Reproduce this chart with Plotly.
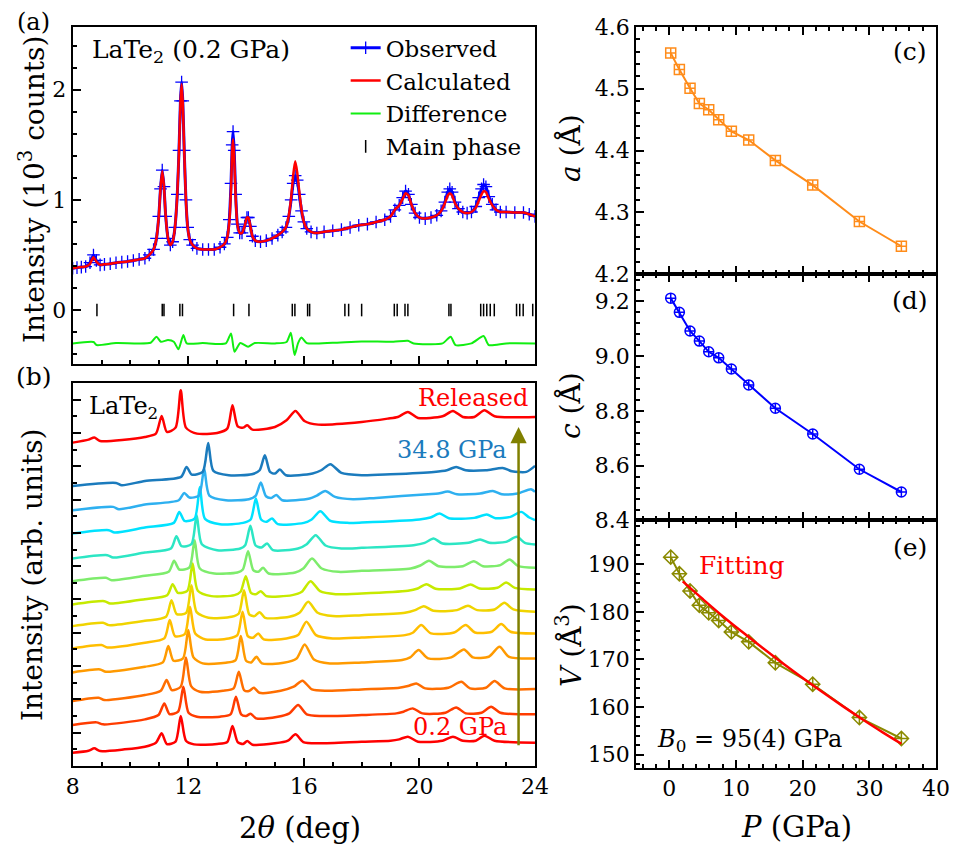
import plotly.graph_objects as go

FONT = "DejaVu Serif"

# ---------------- Panel (a): Rietveld refinement, LaTe2 at 0.2 GPa ----------------
obs_2theta = [8.00, 8.15, 8.30, 8.45, 8.60, 8.72, 8.82, 8.95, 9.10, 9.30, 9.50, 9.70, 9.90, 10.10,
              10.30, 10.50, 10.65, 10.80, 10.90, 10.98, 11.04, 11.10, 11.16, 11.22, 11.30, 11.38,
              11.46, 11.54, 11.62, 11.68, 11.73, 11.77, 11.81, 11.86, 11.92, 11.98, 12.05, 12.15,
              12.30, 12.50, 12.70, 12.90, 13.10, 13.25, 13.35, 13.42, 13.48, 13.52, 13.55, 13.59,
              13.64, 13.70, 13.78, 13.86, 13.95, 14.03, 14.08, 14.15, 14.22, 14.32, 14.50, 14.70,
              14.90, 15.10, 15.25, 15.38, 15.48, 15.56, 15.63, 15.70, 15.77, 15.84, 15.92, 16.00,
              16.10, 16.25, 16.45, 16.70, 17.00, 17.30, 17.60, 17.90, 18.20, 18.50, 18.80, 19.00,
              19.15, 19.30, 19.42, 19.52, 19.62, 19.72, 19.85, 20.00, 20.20, 20.40, 20.60, 20.75,
              20.88, 20.98, 21.05, 21.13, 21.23, 21.35, 21.50, 21.65, 21.80, 21.95, 22.05, 22.15,
              22.22, 22.30, 22.40, 22.52, 22.65, 22.80, 23.00, 23.30, 23.60, 23.80, 24.00]
obs_int = [0.38, 0.385, 0.39, 0.395, 0.43, 0.50, 0.45, 0.41, 0.415, 0.42, 0.43, 0.435, 0.44, 0.45,
           0.46, 0.47, 0.50, 0.55, 0.65, 0.85, 1.10, 1.27, 1.12, 0.85, 0.65, 0.59,
           0.62, 0.75, 1.05, 1.45, 1.90, 2.07, 1.90, 1.45, 1.00, 0.75, 0.64, 0.59,
           0.56, 0.55, 0.55, 0.55, 0.57, 0.60, 0.66, 0.82, 1.15, 1.50, 1.62, 1.45,
           1.05, 0.78, 0.70, 0.70, 0.76, 0.84, 0.84, 0.76, 0.67, 0.63, 0.62, 0.63,
           0.65, 0.68, 0.71, 0.75, 0.85, 1.00, 1.15, 1.22, 1.18, 1.05, 0.90, 0.80,
           0.74, 0.71, 0.70, 0.71, 0.72, 0.73, 0.75, 0.77, 0.78, 0.80, 0.82, 0.85,
           0.91, 0.95, 1.02, 1.08, 1.05, 0.96, 0.88, 0.84, 0.83, 0.84, 0.86, 0.90,
           0.98, 1.07, 1.10, 1.07, 0.98, 0.92, 0.89, 0.88, 0.89, 0.94, 1.02, 1.10,
           1.14, 1.12, 1.03, 0.96, 0.91, 0.89, 0.89, 0.885, 0.885, 0.87, 0.85]
calc_int = [0.38, 0.385, 0.39, 0.395, 0.42, 0.48, 0.44, 0.41, 0.415, 0.42, 0.43, 0.435, 0.44, 0.45,
            0.46, 0.47, 0.50, 0.55, 0.65, 0.85, 1.10, 1.26, 1.12, 0.85, 0.65, 0.59,
            0.62, 0.75, 1.05, 1.45, 1.88, 2.05, 1.88, 1.45, 1.00, 0.75, 0.64, 0.59,
            0.56, 0.55, 0.55, 0.55, 0.57, 0.60, 0.66, 0.80, 1.10, 1.45, 1.55, 1.38,
            1.02, 0.78, 0.70, 0.70, 0.76, 0.84, 0.84, 0.76, 0.67, 0.63, 0.62, 0.63,
            0.65, 0.68, 0.71, 0.75, 0.86, 1.02, 1.22, 1.35, 1.25, 1.08, 0.91, 0.80,
            0.74, 0.71, 0.70, 0.71, 0.72, 0.73, 0.75, 0.77, 0.78, 0.80, 0.82, 0.85,
            0.91, 0.95, 1.01, 1.06, 1.04, 0.96, 0.88, 0.84, 0.83, 0.84, 0.86, 0.90,
            0.97, 1.04, 1.06, 1.04, 0.97, 0.92, 0.89, 0.88, 0.89, 0.93, 0.99, 1.05,
            1.08, 1.07, 1.01, 0.95, 0.91, 0.89, 0.89, 0.885, 0.885, 0.87, 0.85]
diff_2theta = [8.00, 8.72, 8.83, 9.50, 10.70, 10.90, 11.05, 11.30, 11.50, 11.66, 11.83, 11.95,
               12.50, 13.30, 13.48, 13.60, 13.80, 14.07, 14.30, 15.00, 15.40, 15.55, 15.68,
               15.80, 15.92, 16.10, 17.00, 18.00, 19.10, 19.60, 19.80, 20.80, 21.08, 21.25,
               21.80, 22.22, 22.40, 23.00, 24.00]
diff_int = [-0.303, -0.290, -0.318, -0.300, -0.297, -0.242, -0.288, -0.273, -0.288, -0.357,
            -0.227, -0.303, -0.300, -0.303, -0.212, -0.379, -0.300, -0.333, -0.300, -0.303,
            -0.290, -0.206, -0.409, -0.300, -0.250, -0.300, -0.297, -0.285, -0.288, -0.279,
            -0.303, -0.303, -0.242, -0.318, -0.303, -0.236, -0.318, -0.303, -0.303]
main_phase_2theta = [8.84, 11.10, 11.16, 11.71, 11.80, 13.57, 14.10, 15.60, 15.69, 16.13, 16.20,
                     17.42, 17.55, 18.00, 19.13, 19.23, 19.50, 19.60, 21.02, 21.09, 22.12, 22.22,
                     22.33, 22.45, 22.59, 23.36, 23.47, 23.59, 23.92]

# ---------------- Panel (b): pressure-dependent XRD patterns (arb. units, stacked) ----------------
tt_p0p2 = [8.0, 8.55, 8.75, 8.95, 9.8, 10.5, 10.88, 11.08, 11.26, 11.56, 11.74, 11.92, 12.2, 13.0, 13.35,
           13.53, 13.71, 13.9, 14.04, 14.22, 15.0, 15.45, 15.71, 15.98, 16.5, 18.0, 19.0, 19.3, 19.6,
           19.95, 20.8, 21.16, 21.5, 21.95, 22.25, 22.6, 24.0]
int_p0p2 = [40, 46, 53, 45, 50, 58, 70, 98, 66, 73, 150, 76, 65, 66, 72, 120, 72, 66, 75, 64, 68, 76, 95,
            72, 68, 73, 76, 80, 88, 73, 76, 88, 76, 76, 91, 76, 70]

tt_p1p5 = [8.0, 8.83, 9.05, 10.5, 10.97, 11.17, 11.35, 11.65, 11.83, 12.01, 12.3, 13.1, 13.47, 13.65, 13.83,
           14.0, 14.16, 14.35, 15.1, 15.5, 15.80, 16.1, 16.6, 18.0, 19.2, 19.45, 19.77, 20.1, 20.9, 21.27,
           21.6, 22.15, 22.48, 22.8, 24.0]
int_p1p5 = [123, 131, 125, 140, 153, 188, 156, 163, 238, 160, 148, 148, 156, 208, 155, 150, 157, 143, 148,
            158, 183, 155, 150, 153, 158, 163, 173, 158, 160, 176, 158, 160, 178, 160, 155]

tt_p3p1 = [8.0, 8.9, 9.1, 10.5, 11.05, 11.25, 11.43, 11.74, 11.92, 12.1, 12.4, 13.2, 13.57, 13.75, 13.93,
           14.1, 14.27, 14.46, 15.2, 15.65, 15.95, 16.28, 16.8, 18.0, 19.3, 19.6, 19.89, 20.2, 21.0, 21.45,
           21.75, 22.3, 22.6, 22.95, 24.0]
int_p3p1 = [195, 205, 198, 213, 226, 258, 228, 238, 326, 240, 223, 226, 233, 283, 228, 225, 235, 220, 226,
            238, 256, 230, 226, 230, 235, 240, 248, 233, 235, 253, 233, 235, 255, 233, 231]

tt_p4p5 = [8.0, 8.95, 9.15, 10.5, 11.12, 11.31, 11.49, 11.82, 12.0, 12.18, 12.5, 13.3, 13.64, 13.82, 14.0,
           14.18, 14.36, 14.55, 15.3, 15.75, 16.03, 16.35, 16.9, 18.0, 19.4, 19.68, 19.97, 20.3, 21.1, 21.54,
           21.85, 22.4, 22.77, 23.1, 24.0]
int_p4p5 = [281, 290, 283, 298, 311, 360, 316, 323, 408, 326, 308, 310, 318, 390, 316, 311, 328, 308, 310,
            323, 365, 320, 308, 311, 318, 326, 348, 323, 326, 350, 326, 328, 358, 328, 323]

tt_p5p9 = [8.0, 9.0, 9.2, 10.5, 11.17, 11.36, 11.54, 11.88, 12.06, 12.24, 12.6, 13.4, 13.7, 13.88, 14.06,
           14.24, 14.42, 14.61, 15.4, 15.8, 16.09, 16.42, 17.0, 18.0, 19.5, 19.77, 20.06, 20.4, 21.2, 21.6,
           21.92, 22.5, 22.83, 23.15, 24.0]
int_p5p9 = [353, 363, 356, 370, 383, 438, 390, 396, 478, 398, 380, 383, 393, 463, 390, 385, 398, 380, 383,
            393, 433, 393, 383, 386, 393, 400, 423, 398, 401, 423, 401, 403, 426, 403, 398]

tt_p7p4 = [8.0, 9.05, 9.25, 10.5, 11.23, 11.42, 11.6, 11.93, 12.11, 12.29, 12.7, 13.5, 13.75, 13.93, 14.11,
           14.29, 14.47, 14.66, 15.5, 15.85, 16.15, 16.48, 17.0, 18.0, 19.5, 19.85, 20.15, 20.48, 21.3, 21.68,
           22.0, 22.6, 22.94, 23.25, 24.0]
int_p7p4 = [420, 430, 423, 436, 448, 498, 456, 460, 543, 462, 445, 448, 458, 528, 455, 450, 462, 445, 448,
            460, 493, 460, 450, 453, 460, 468, 480, 466, 468, 481, 468, 470, 490, 470, 463]

tt_p9p3 = [8.0, 9.1, 9.3, 10.5, 11.27, 11.46, 11.64, 11.97, 12.15, 12.33, 12.8, 13.6, 13.81, 13.99, 14.17,
           14.34, 14.51, 14.7, 15.6, 15.93, 16.23, 16.56, 17.1, 18.0, 19.6, 19.94, 20.24, 20.56, 21.4, 21.77,
           22.08, 22.7, 23.0, 23.3, 24.0]
int_p9p3 = [485, 495, 488, 501, 513, 546, 520, 526, 608, 526, 510, 513, 523, 570, 520, 516, 525, 510, 513,
            523, 555, 525, 516, 518, 526, 533, 546, 532, 533, 545, 533, 535, 551, 535, 530]

tt_p11p9 = [8.0, 9.15, 9.35, 10.5, 11.32, 11.51, 11.69, 12.04, 12.22, 12.4, 12.9, 13.7, 13.89, 14.07, 14.25,
            14.42, 14.59, 14.78, 15.7, 15.98, 16.28, 16.62, 17.2, 18.0, 19.7, 20.03, 20.33, 20.66, 21.5,
            21.88, 22.2, 22.8, 23.12, 23.42, 24.0]
int_p11p9 = [555, 565, 558, 571, 583, 616, 590, 596, 678, 593, 578, 581, 590, 645, 588, 583, 595, 578, 581,
             593, 623, 593, 583, 586, 593, 602, 616, 600, 600, 615, 600, 603, 620, 600, 595]

tt_p15p9 = [8.0, 9.2, 9.4, 10.5, 11.4, 11.59, 11.77, 12.11, 12.29, 12.47, 13.0, 13.8, 13.97, 14.15, 14.33,
            14.53, 14.73, 14.93, 15.8, 16.1, 16.41, 16.75, 17.3, 18.0, 19.8, 20.18, 20.49, 20.8, 21.7, 22.1,
            22.42, 23.0, 23.37, 23.65, 24.0]
int_p15p9 = [623, 633, 626, 641, 653, 690, 660, 666, 753, 666, 648, 653, 663, 721, 662, 656, 668, 648, 653,
             666, 693, 662, 653, 655, 663, 670, 683, 668, 670, 680, 670, 673, 688, 670, 665]

tt_p21p5 = [8.0, 9.25, 9.45, 10.5, 11.5, 11.69, 11.87, 12.22, 12.40, 12.58, 13.1, 13.9, 14.16, 14.34, 14.52,
            14.7, 14.90, 15.1, 16.0, 16.27, 16.57, 16.92, 17.5, 18.0, 20.0, 20.38, 20.70, 21.02, 21.9, 22.33,
            22.63, 23.15, 23.52, 23.8, 24.0]
int_p21p5 = [698, 708, 701, 716, 730, 763, 736, 743, 838, 742, 726, 730, 740, 803, 740, 733, 743, 726, 730,
             740, 765, 736, 730, 731, 740, 746, 758, 744, 745, 755, 744, 748, 763, 746, 738]

tt_p28p5 = [8.0, 9.4, 9.6, 10.5, 11.67, 11.86, 12.04, 12.37, 12.55, 12.73, 13.3, 14.1, 14.33, 14.51, 14.69,
            14.87, 15.05, 15.25, 16.2, 16.45, 16.74, 17.08, 17.7, 18.5, 20.3, 20.65, 20.98, 21.3, 22.1, 22.54,
            22.85, 23.4, 23.86, 24.0]
int_p28p5 = [768, 778, 771, 785, 798, 820, 806, 812, 893, 812, 798, 801, 811, 851, 810, 805, 814, 798, 803,
             812, 826, 808, 801, 805, 816, 818, 824, 816, 818, 826, 816, 818, 831, 823]

tt_p34p8 = [8.0, 9.5, 9.7, 10.5, 11.75, 11.94, 12.12, 12.5, 12.69, 12.87, 13.4, 14.2, 14.47, 14.65, 14.83,
            15.0, 15.17, 15.38, 16.3, 16.6, 16.92, 17.3, 18.0, 19.0, 20.5, 20.95, 21.27, 21.6, 22.3, 22.88,
            23.2, 23.7, 24.0]
int_p34p8 = [841, 850, 843, 856, 868, 898, 875, 883, 970, 886, 873, 876, 888, 933, 883, 878, 890, 873, 878,
             888, 906, 880, 873, 876, 883, 888, 898, 888, 888, 895, 885, 883, 901]

tt_released = [8.0, 8.55, 8.75, 8.95, 10.5, 10.88, 11.08, 11.26, 11.56, 11.74, 11.92, 12.3, 13.0, 13.35,
               13.53, 13.71, 13.9, 14.04, 14.22, 15.0, 15.4, 15.71, 16.02, 16.5, 18.0, 18.9, 19.25, 19.6,
               19.95, 20.8, 21.16, 21.5, 21.9, 22.25, 22.6, 24.0]
int_released = [971, 980, 986, 976, 988, 998, 1051, 1003, 1016, 1128, 1016, 998, 1000, 1013, 1083, 1020,
                1016, 1023, 1010, 1018, 1038, 1066, 1036, 1025, 1033, 1043, 1048, 1063, 1045, 1050, 1066,
                1048, 1048, 1068, 1050, 1048]

pattern_labels = ["0.2 GPa", "1.5 GPa", "3.1 GPa", "4.5 GPa", "5.9 GPa", "7.4 GPa", "9.3 GPa",
                  "11.9 GPa", "15.9 GPa", "21.5 GPa", "28.5 GPa", "34.8 GPa"]
pattern_colors = ["#ff0000", "#ff3c00", "#ff6e00", "#ff9a00", "#ffbe00", "#f0d400", "#c6ea00",
                  "#7eec6c", "#2ce6c4", "#00e2ff", "#2eb0f0", "#1b7bbd"]

# ---------------- Panels (c)-(e): lattice parameters vs pressure ----------------
pressure = [0.2, 1.5, 3.1, 4.5, 5.9, 7.4, 9.3, 11.9, 15.9, 21.5, 28.5, 34.8]
a_param = [4.558, 4.531, 4.501, 4.476, 4.466, 4.450, 4.431, 4.417, 4.384, 4.344, 4.285, 4.245]
c_param = [9.212, 9.160, 9.092, 9.055, 9.016, 8.994, 8.953, 8.895, 8.810, 8.716, 8.587, 8.504]
volume = [191.5, 188.0, 184.4, 181.4, 179.8, 178.2, 175.8, 173.7, 169.3, 164.8, 157.8, 153.4]
fit_pressure = [2, 5, 8, 11, 14, 17, 20, 23, 26, 29, 32, 34.8]
fit_volume = [186.4, 182.7, 179.1, 175.7, 172.4, 169.2, 166.1, 163.1, 160.2, 157.4, 154.7, 152.3]

fig = go.Figure()

# (a)
fig.add_trace(go.Scatter(x=obs_2theta, y=obs_int, mode="lines+markers", name="Observed",
                         line=dict(color="#0000ff", width=3, shape="spline", smoothing=0.6),
                         marker=dict(symbol="cross-thin", size=9, line=dict(width=1.3, color="#0000ff")),
                         xaxis="x", yaxis="y"))
fig.add_trace(go.Scatter(x=obs_2theta, y=calc_int, mode="lines", name="Calculated",
                         line=dict(color="#ff0000", width=2.5, shape="spline", smoothing=0.6),
                         xaxis="x", yaxis="y"))
fig.add_trace(go.Scatter(x=diff_2theta, y=diff_int, mode="lines", name="Difference",
                         line=dict(color="#11ee11", width=2, shape="spline", smoothing=0.6),
                         xaxis="x", yaxis="y"))
fig.add_trace(go.Scatter(x=main_phase_2theta, y=[0] * len(main_phase_2theta), mode="markers",
                         name="Main phase",
                         marker=dict(symbol="line-ns", size=9, line=dict(width=1.5, color="black")),
                         xaxis="x", yaxis="y"))

# (b)
pattern_x = [tt_p0p2, tt_p1p5, tt_p3p1, tt_p4p5, tt_p5p9, tt_p7p4, tt_p9p3, tt_p11p9, tt_p15p9,
             tt_p21p5, tt_p28p5, tt_p34p8]
pattern_y = [int_p0p2, int_p1p5, int_p3p1, int_p4p5, int_p5p9, int_p7p4, int_p9p3, int_p11p9, int_p15p9,
             int_p21p5, int_p28p5, int_p34p8]
for px, py, lab, col in zip(pattern_x, pattern_y, pattern_labels, pattern_colors):
    fig.add_trace(go.Scatter(x=px, y=py, mode="lines", name=lab, showlegend=False,
                             line=dict(color=col, width=2.5, shape="spline", smoothing=0.7),
                             xaxis="x2", yaxis="y2"))
fig.add_trace(go.Scatter(x=tt_released, y=int_released, mode="lines", name="Released", showlegend=False,
                         line=dict(color="#ff0000", width=2.5, shape="spline", smoothing=0.7),
                         xaxis="x2", yaxis="y2"))

# (c)
fig.add_trace(go.Scatter(x=pressure, y=a_param, mode="lines+markers", showlegend=False,
                         line=dict(color="#ff8c1a", width=2),
                         marker=dict(symbol="square-cross-open", size=10, color="#ff8c1a",
                                     line=dict(width=1.5, color="#ff8c1a")),
                         xaxis="x3", yaxis="y3"))
# (d)
fig.add_trace(go.Scatter(x=pressure, y=c_param, mode="lines+markers", showlegend=False,
                         line=dict(color="#0000ff", width=2),
                         marker=dict(symbol="circle-cross-open", size=10, color="#0000ff",
                                     line=dict(width=1.5, color="#0000ff")),
                         xaxis="x4", yaxis="y4"))
# (e)
fig.add_trace(go.Scatter(x=pressure, y=volume, mode="lines+markers", showlegend=False,
                         line=dict(color="#8a8a00", width=2),
                         marker=dict(symbol="diamond-cross-open", size=11, color="#8a8a00",
                                     line=dict(width=1.5, color="#8a8a00")),
                         xaxis="x5", yaxis="y5"))
fig.add_trace(go.Scatter(x=fit_pressure, y=fit_volume, mode="lines", showlegend=False,
                         line=dict(color="#ff0000", width=2.5, shape="spline"),
                         xaxis="x5", yaxis="y5"))

tickfont = dict(family=FONT, size=22, color="black")
minor_style = dict(ticks="inside", ticklen=4, tickcolor="black", tickwidth=1.5)


def axis(**kw):
    base = dict(showline=True, linecolor="black", linewidth=2, mirror=True, ticks="inside",
                tickcolor="black", tickwidth=1.5, ticklen=8, showgrid=False, zeroline=False,
                automargin=False, tickfont=tickfont)
    base.update(kw)
    return base


# the page body adds an 8 px margin, so the figure is 944 x 844 to fill the 960 x 860 window
XL = [0.0685, 0.5583]
XR = [0.6653, 0.9831]

fig.update_layout(
    width=944, height=844,
    margin=dict(l=0, r=0, t=0, b=0, autoexpand=False),
    paper_bgcolor="white", plot_bgcolor="white",
    font=dict(family=FONT, size=22, color="black"),
    xaxis=axis(domain=XL, anchor="y", range=[8, 24], tick0=8, dtick=4, showticklabels=False,
               minor=dict(dtick=1, **minor_style)),
    yaxis=axis(domain=[0.5782, 0.9775], anchor="x", range=[-0.49, 2.57], tick0=0, dtick=1,
               minor=dict(dtick=0.2, **minor_style)),
    xaxis2=axis(domain=XL, anchor="y2", range=[8, 24], tick0=8, dtick=4,
                minor=dict(dtick=1, **minor_style)),
    yaxis2=axis(domain=[0.1019, 0.5557], anchor="x2", range=[0, 1150], tick0=0, dtick=100,
                showticklabels=False, minor=dict(dtick=50, **minor_style)),
    xaxis3=axis(domain=XR, anchor="y3", range=[-5, 40], tick0=0, dtick=10, mirror="allticks",
                showticklabels=False, minor=dict(dtick=2, **minor_style)),
    yaxis3=axis(domain=[0.6848, 0.9775], anchor="x3", range=[4.2, 4.6], tick0=4.2, dtick=0.1,
                tickformat=".1f", minor=dict(dtick=0.02, **minor_style)),
    xaxis4=axis(domain=XR, anchor="y4", range=[-5, 40], tick0=0, dtick=10, mirror="allticks",
                showticklabels=False, minor=dict(dtick=2, **minor_style)),
    yaxis4=axis(domain=[0.3928, 0.6848], anchor="x4", range=[8.4, 9.3], tick0=8.4, dtick=0.2,
                tickformat=".1f", minor=dict(dtick=0.04, **minor_style)),
    xaxis5=axis(domain=XR, anchor="y5", range=[-5, 40], tick0=0, dtick=10, mirror="allticks",
                minor=dict(dtick=2, **minor_style)),
    yaxis5=axis(domain=[0.0995, 0.3928], anchor="x5", range=[147.2, 199.2], tick0=150, dtick=10,
                minor=dict(dtick=2, **minor_style)),
    legend=dict(x=0.3577, y=0.9784, xanchor="left", yanchor="top", bgcolor="rgba(0,0,0,0)",
                font=dict(family=FONT, size=23, color="black"), tracegroupgap=0),
)

ann = []


def txt(text, x, y, xref="paper", yref="paper", size=24, color="black", xanchor="center",
        yanchor="middle", angle=0):
    ann.append(dict(text=text, x=x, y=y, xref=xref, yref=yref, showarrow=False,
                    font=dict(family=FONT, size=size, color=color), xanchor=xanchor,
                    yanchor=yanchor, textangle=angle))


# panel letters
txt("(a)", 0.0275, 0.9840, size=24)
txt("(b)", 0.0275, 0.5628, size=25)
txt("(c)", 0.9555, 0.9479, size=25)
txt("(d)", 0.9555, 0.6540, size=25)
txt("(e)", 0.9555, 0.3602, size=25)
# axis titles
txt("Intensity (10<sup>3</sup> counts)", 0.0265, 0.7844, size=28, angle=-90)
txt("Intensity (arb. units)", 0.0265, 0.3282, size=28, angle=-90)
txt("2<i>θ</i> (deg)", 0.3093, 0.0284, size=29)
txt("<i>P</i> (GPa)", 0.8358, 0.0296, size=29)
txt("<i>a</i> (Å)", 0.5953, 0.8341, size=28, angle=-90)
txt("<i>c</i> (Å)", 0.5953, 0.5296, size=28, angle=-90)
txt("<i>V</i> (Å<sup>3</sup>)", 0.5953, 0.2453, size=28, angle=-90)
# in-panel texts
txt("LaTe<sub>2</sub> (0.2 GPa)", 8.6, 2.35, xref="x", yref="y", size=25, xanchor="left")
txt("LaTe<sub>2</sub>", 8.48, 1076, xref="x2", yref="y2", size=24, xanchor="left")
txt("Released", 23.81, 1106, xref="x2", yref="y2", size=24, color="#ff0000", xanchor="right")
txt("34.8 GPa", 23.09, 950, xref="x2", yref="y2", size=24, color="#1b7bbd", xanchor="right")
txt("0.2 GPa", 23.09, 118, xref="x2", yref="y2", size=24, color="#ff0000", xanchor="right")
txt("Fitting", 4.15, 189.8, xref="x5", yref="y5", size=25, color="#ff0000", xanchor="left")
txt("<i>B</i><sub>0</sub> = 95(4) GPa", -2.1, 153.0, xref="x5", yref="y5", size=24, xanchor="left")

ann.append(dict(x=23.43, y=1018, ax=23.43, ay=58, xref="x2", yref="y2", axref="x2", ayref="y2",
                text="", showarrow=True, arrowhead=2, arrowsize=1.3, arrowwidth=2.5,
                arrowcolor="#808000"))

fig.update_layout(annotations=ann)

fig.write_html("out.html")
